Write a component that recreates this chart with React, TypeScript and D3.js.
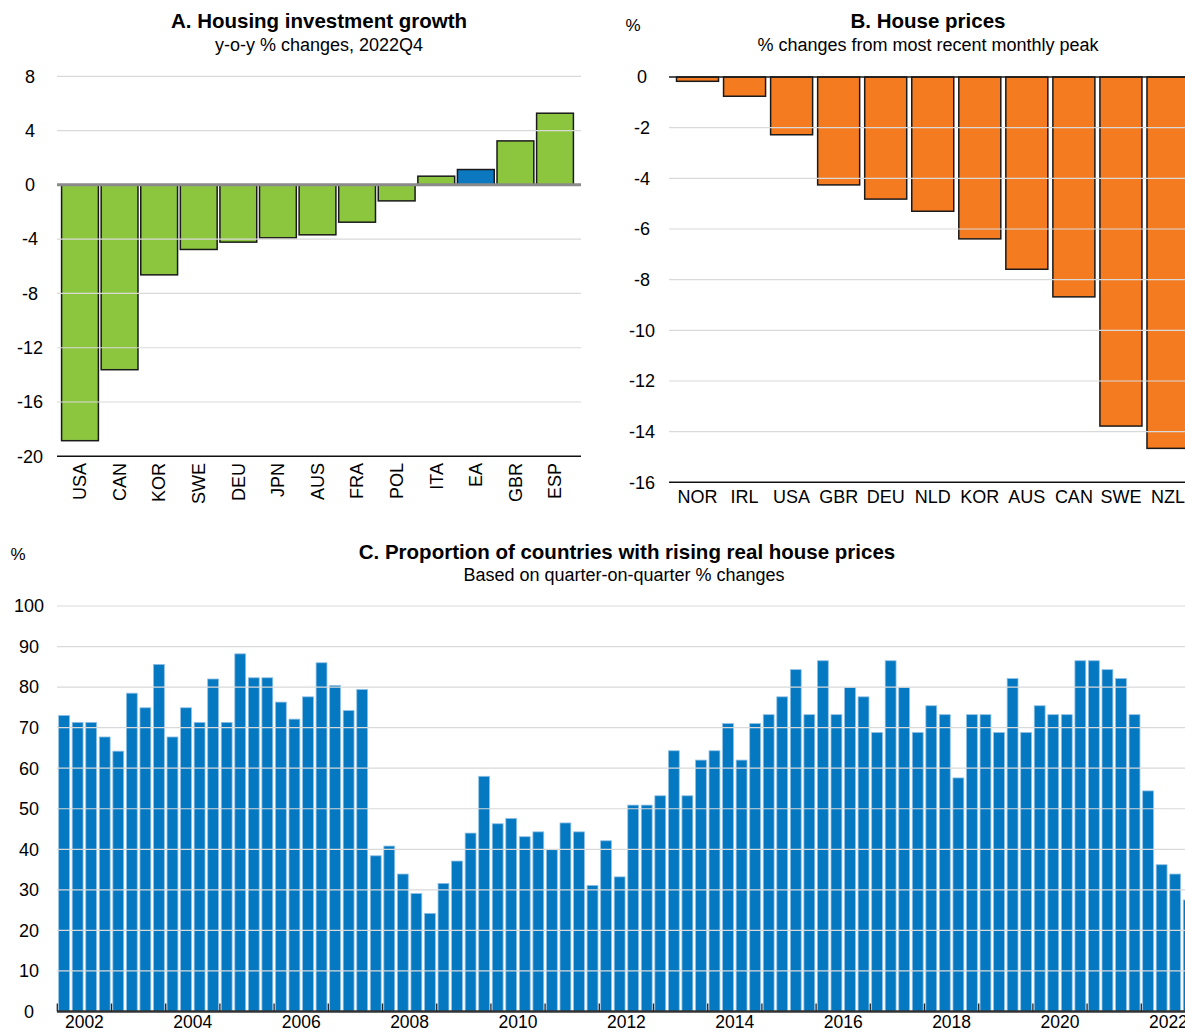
import React from 'react';
import * as d3 from 'd3';

// Panel A: housing investment growth, y-o-y % changes 2022Q4
const aCountries = ['USA', 'CAN', 'KOR', 'SWE', 'DEU', 'JPN', 'AUS', 'FRA', 'POL', 'ITA', 'EA', 'GBR', 'ESP'];
const aValues = [-18.85, -13.62, -6.63, -4.76, -4.22, -3.9, -3.68, -2.75, -1.18, 0.64, 1.13, 3.24, 5.28];
const aTicks = [8, 4, 0, -4, -8, -12, -16, -20];

// Panel B: house prices, % change from most recent monthly peak
const bCountries = ['NOR', 'IRL', 'USA', 'GBR', 'DEU', 'NLD', 'KOR', 'AUS', 'CAN', 'SWE', 'NZL'];
const bValues = [-0.17, -0.76, -2.28, -4.26, -4.82, -5.3, -6.39, -7.59, -8.68, -13.78, -14.66];
const bTicks = [0, -2, -4, -6, -8, -10, -12, -14, -16];

// Panel C: proportion of countries with rising real house prices (quarterly, 2002Q1-2022Q4)
const cYears = d3.range(2002, 2023);
const cYearLabels = ['2002', '2004', '2006', '2008', '2010', '2012', '2014', '2016', '2018', '2020', '2022'];
const cValues = [
  73.0, 71.3, 71.3, 67.7,
  64.2, 78.5, 74.9, 85.6,
  67.7, 74.9, 71.3, 82.0,
  71.3, 88.2, 82.3, 82.3,
  76.3, 72.1, 77.6, 86.0,
  80.4, 74.2, 79.4, 38.4,
  40.8, 33.9, 29.1, 24.2,
  31.6, 37.1, 44.0, 58.0,
  46.3, 47.6, 43.1, 44.3,
  39.9, 46.5, 44.3, 31.1,
  42.1, 33.2, 50.9, 50.9,
  53.2, 64.3, 53.2, 62.0,
  64.3, 71.0, 62.0, 71.0,
  73.2, 77.6, 84.3, 73.2,
  86.5, 73.2, 79.9, 77.6,
  68.8, 86.5, 79.9, 68.8,
  75.4, 73.2, 57.6, 73.2,
  73.2, 68.8, 82.1, 68.8,
  75.4, 73.2, 73.2, 86.5,
  86.5, 84.3, 82.1, 73.2,
  54.4, 36.2, 33.9, 27.5,
];
const cTicks = [0, 10, 20, 30, 40, 50, 60, 70, 80, 90, 100];

const FONT = '"Liberation Sans", Arial, Helvetica, sans-serif';
const GRID = '#d9d9d9';

const W = 1185;
const H = 1033;

const PanelA = () => {
  const x = d3.scaleBand<string>().domain(aCountries).range([60.2, 574.8]).paddingInner(0.07).paddingOuter(0.035);
  const y = d3.scaleLinear().domain([-20, 8]).range([456.3, 76.3]);
  const left = 57;
  const right = 581;
  return (
    <g>
      <text x={319} y={28} textAnchor="middle" fontSize={20.5} fontWeight="bold">A. Housing investment growth</text>
      <text x={319} y={51} textAnchor="middle" fontSize={18}>y-o-y % changes, 2022Q4</text>
      {aCountries.map((c, i) => {
        const v = aValues[i];
        return (
          <rect key={c} x={x(c)} y={y(Math.max(0, v))} width={x.bandwidth()}
            height={Math.abs(y(v) - y(0))}
            fill={c === 'EA' ? '#0b78c0' : '#8cc63f'} stroke="#1a1a1a" strokeWidth={1.5} />
        );
      })}
      {aTicks.filter(t => t !== 0 && t !== -20).map(t => (
        <line key={t} x1={left} x2={right} y1={y(t)} y2={y(t)} stroke={GRID} strokeWidth={1.2} />
      ))}
      <line x1={left} x2={right} y1={y(0)} y2={y(0)} stroke="#8a8a8a" strokeWidth={3} />
      <line x1={left} x2={right} y1={y(-20)} y2={y(-20)} stroke="#111" strokeWidth={1.5} />
      {aTicks.map(t => (
        <text key={t} x={30} y={y(t)} dy="0.35em" textAnchor="middle" fontSize={18}>{t}</text>
      ))}
      {aCountries.map(c => (
        <text key={c} transform={`translate(${x(c)! + x.bandwidth() / 2},463) rotate(-90)`}
          dy="0.35em" textAnchor="end" fontSize={18}>{c}</text>
      ))}
    </g>
  );
};

const PanelB = () => {
  const x = d3.scaleBand<string>().domain(bCountries).range([674, 1191.5]).paddingInner(0.107).paddingOuter(0.0535);
  const y = d3.scaleLinear().domain([-16, 0]).range([482.3, 77]);
  const left = 669;
  const right = W;
  return (
    <g>
      <text x={633} y={31} textAnchor="middle" fontSize={17}>%</text>
      <text x={928} y={28} textAnchor="middle" fontSize={20.5} fontWeight="bold">B. House prices</text>
      <text x={928} y={51} textAnchor="middle" fontSize={18}>% changes from most recent monthly peak</text>
      {bCountries.map((c, i) => (
        <rect key={c} x={x(c)} y={y(0)} width={x.bandwidth()} height={y(bValues[i]) - y(0)}
          fill="#f47b20" stroke="#1a1a1a" strokeWidth={1.5} />
      ))}
      {bTicks.filter(t => t !== 0 && t !== -16).map(t => (
        <line key={t} x1={left} x2={right} y1={y(t)} y2={y(t)} stroke={GRID} strokeWidth={1.2} />
      ))}
      <line x1={left} x2={right} y1={y(0)} y2={y(0)} stroke="#1a1a1a" strokeWidth={1.5} />
      <line x1={left} x2={right} y1={y(-16)} y2={y(-16)} stroke="#111" strokeWidth={1.5} />
      {bTicks.map(t => (
        <text key={t} x={642} y={y(t)} dy="0.35em" textAnchor="middle" fontSize={18}>{t}</text>
      ))}
      {bCountries.map(c => (
        <text key={c} x={x(c)! + x.bandwidth() / 2} y={503} textAnchor="middle" fontSize={18}>{c}</text>
      ))}
    </g>
  );
};

const PanelC = () => {
  const quarters = cYears.flatMap(yr => [1, 2, 3, 4].map(q => `${yr}Q${q}`));
  const x = d3.scaleBand<string>().domain(quarters).range([57.3, 1195.5]).paddingInner(0.2).paddingOuter(0.1);
  const y = d3.scaleLinear().domain([0, 100]).range([1011.5, 606]);
  const left = 57;
  const right = W;
  const step = x.step();
  const yearStart = (yr: number) => x(`${yr}Q1`)! - x.paddingOuter() * step;
  return (
    <g>
      <text x={18} y={560} textAnchor="middle" fontSize={17}>%</text>
      <text x={627} y={559} textAnchor="middle" fontSize={20.5} fontWeight="bold">
        C. Proportion of countries with rising real house prices
      </text>
      <text x={624} y={581} textAnchor="middle" fontSize={18}>Based on quarter-on-quarter % changes</text>
      {quarters.map((q, i) => (
        <rect key={q} x={x(q)} y={y(cValues[i])} width={x.bandwidth()} height={y(0) - y(cValues[i])}
          fill="#0478c0" stroke="#8fc0e6" strokeWidth={0.8} />
      ))}
      {cTicks.filter(t => t !== 0).map(t => (
        <line key={t} x1={left} x2={right} y1={y(t)} y2={y(t)} stroke={GRID} strokeWidth={1.2} />
      ))}
      <line x1={left} x2={right} y1={y(0)} y2={y(0)} stroke="#333" strokeWidth={2.5} />
      {cYears.map(yr => (
        <line key={yr} x1={yearStart(yr)} x2={yearStart(yr)} y1={y(0)} y2={y(0) - 8} stroke="#222" strokeWidth={1.3} />
      ))}
      {cTicks.map(t => (
        <text key={t} x={29} y={y(t)} dy="0.35em" textAnchor="middle" fontSize={18}>{t}</text>
      ))}
      {cYearLabels.map(l => {
        const yr = +l;
        return (
          <text key={l} x={yearStart(yr) + 2 * step} y={1028} textAnchor="middle" fontSize={17.5}>{l}</text>
        );
      })}
    </g>
  );
};

export default function App() {
  return (
    <>
      <style>{'body{margin:0}'}</style>
      <svg width={W} height={H} style={{ display: 'block', fontFamily: FONT }} fill="#000">
        <rect width={W} height={H} fill="#fff" />
        <PanelA />
        <PanelB />
        <PanelC />
      </svg>
    </>
  );
}
